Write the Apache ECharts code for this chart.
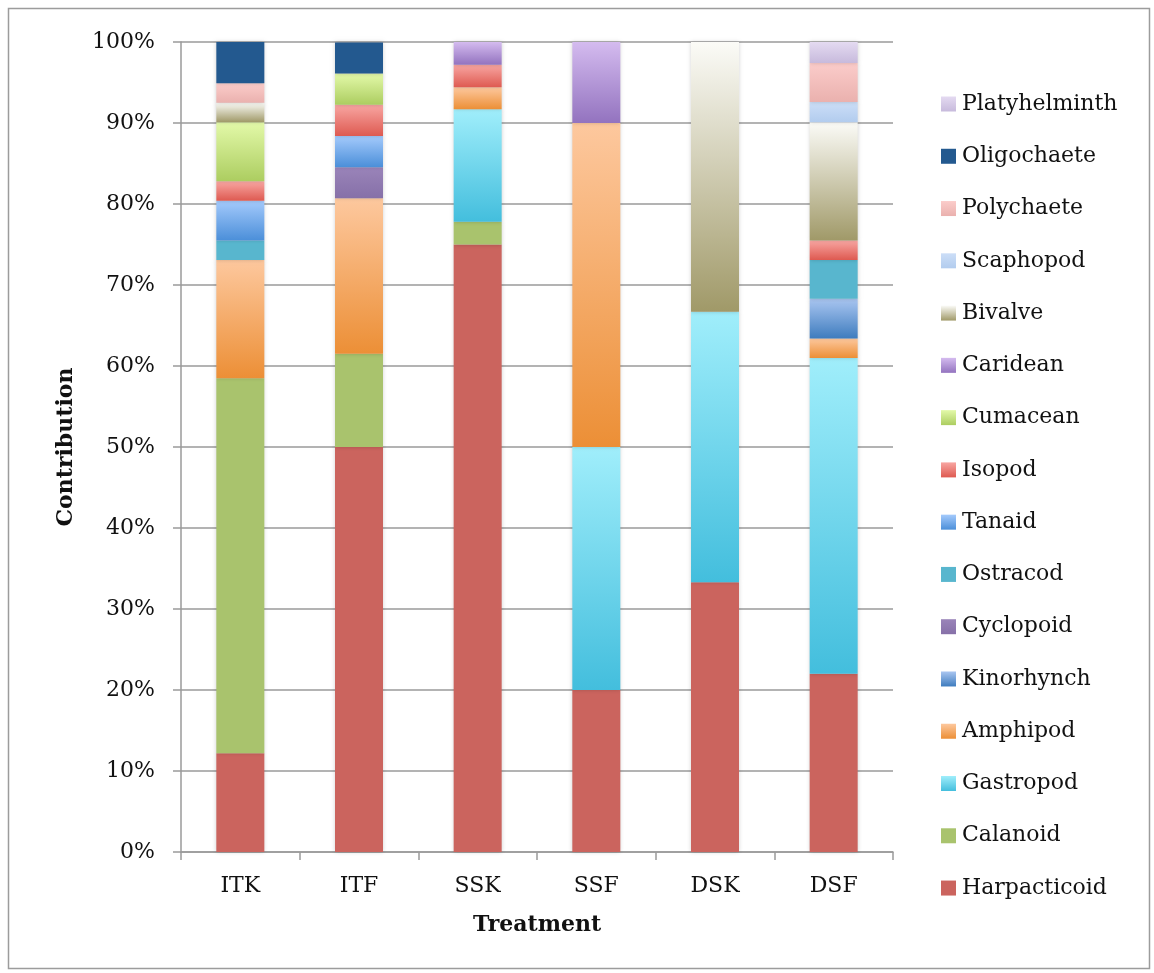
<!DOCTYPE html>
<html>
<head>
<meta charset="utf-8">
<title>Contribution by Treatment</title>
<script src="https://cdn.jsdelivr.net/npm/echarts@6/dist/echarts.min.js"></script>
<style>
  html, body { margin: 0; padding: 0; background: #ffffff; }
  #chart { width: 1154px; height: 973px; }
</style>
</head>
<body>
<div id="chart"></div>
<script>
// Treatments along the x axis
const treatments = ['ITK', 'ITF', 'SSK', 'SSF', 'DSK', 'DSF'];

// Percentage contribution of each taxon per treatment (stacked bottom → top)
const harpacticoid  = [12.2, 50.0, 75.0, 20.0, 33.3, 22.0];
const calanoid      = [46.3, 11.5, 2.8, null, null, null];
const gastropod     = [null, null, 13.9, 30.0, 33.4, 39.0];
const amphipod      = [14.6, 19.2, 2.7, 40.0, null, 2.4];
const kinorhynch    = [null, null, null, null, null, 4.9];
const cyclopoid     = [null, 3.85, null, null, null, null];
const ostracod      = [2.4, null, null, null, null, 4.8];
const tanaid        = [4.9, 3.85, null, null, null, null];
const isopod        = [2.4, 3.85, 2.8, null, null, 2.4];
const cumacean      = [7.3, 3.85, null, null, null, null];
const caridean      = [null, null, 2.8, 10.0, null, null];
const bivalve       = [2.4, null, null, null, 33.3, 14.6];
const scaphopod     = [null, null, null, null, null, 2.5];
const polychaete    = [2.4, null, null, null, null, 4.8];
const oligochaete   = [5.1, 3.85, null, null, null, null];
const platyhelminth = [null, null, null, null, null, 2.6];

// Y axis tick values (percent)
const yTicks = [0, 10, 20, 30, 40, 50, 60, 70, 80, 90, 100];

const FONT = 'DejaVu Serif';

function grad(top, bottom) {
  return new echarts.graphic.LinearGradient(0, 0, 0, 1, [
    { offset: 0, color: top },
    { offset: 1, color: bottom }
  ]);
}

const taxa = [
  { name: 'Harpacticoid',  data: harpacticoid,  color: '#CB645E' },
  { name: 'Calanoid',      data: calanoid,      color: '#A9C36D' },
  { name: 'Gastropod',     data: gastropod,     color: grad('#A0EEFB', '#43BEDD') },
  { name: 'Amphipod',      data: amphipod,      color: grad('#FDC89E', '#EC8F36') },
  { name: 'Kinorhynch',    data: kinorhynch,    color: grad('#AAC6F1', '#3E7CBE') },
  { name: 'Cyclopoid',     data: cyclopoid,     color: grad('#9A84B9', '#8670A8') },
  { name: 'Ostracod',      data: ostracod,      color: '#58B6CE' },
  { name: 'Tanaid',        data: tanaid,        color: grad('#A4CAFC', '#4B8FD9') },
  { name: 'Isopod',        data: isopod,        color: grad('#F8A6A2', '#DE5A51') },
  { name: 'Cumacean',      data: cumacean,      color: grad('#E3F9A9', '#ACCD60') },
  { name: 'Caridean',      data: caridean,      color: grad('#D4BBEF', '#9373BF') },
  { name: 'Bivalve',       data: bivalve,       color: grad('#FBFBF7', '#A09968') },
  { name: 'Scaphopod',     data: scaphopod,     color: grad('#CCDEF7', '#B2CCEE') },
  { name: 'Polychaete',    data: polychaete,    color: grad('#FBCCCA', '#EAB1AE') },
  { name: 'Oligochaete',   data: oligochaete,   color: '#23598F' },
  { name: 'Platyhelminth', data: platyhelminth, color: grad('#E4DAF1', '#C7BADC') }
];

const chart = echarts.init(document.getElementById('chart'), null, { renderer: 'canvas' });

const series = taxa.map(t => ({
  name: t.name,
  type: 'bar',
  stack: 'total',
  barWidth: 48,
  data: t.data,
  itemStyle: {
    color: t.color,
    shadowColor: 'rgba(0,0,0,0.18)',
    shadowBlur: 4
  },
  emphasis: { disabled: true }
}));

chart.setOption({
  animation: false,
  backgroundColor: '#ffffff',
  textStyle: { fontFamily: FONT },
  graphic: [{
    type: 'rect',
    shape: { x: 8.5, y: 8.5, width: 1141, height: 960 },
    style: { fill: 'none', stroke: '#9C9C9C', lineWidth: 1.5 },
    silent: true,
    z: -10
  }],
  grid: { left: 181, right: 261, top: 42, bottom: 121, containLabel: false },
  legend: {
    orient: 'vertical',
    left: 936,
    top: 88,
    itemWidth: 15,
    itemHeight: 15,
    itemGap: 30.27,
    icon: 'rect',
    selectedMode: false,
    data: taxa.map(t => t.name).reverse(),
    itemStyle: { shadowBlur: 0, shadowColor: 'transparent' },
    textStyle: { fontFamily: FONT, fontSize: 22, lineHeight: 22, color: '#111', padding: [0, 0, 0, 1] }
  },
  xAxis: {
    type: 'category',
    data: treatments,
    name: 'Treatment',
    nameLocation: 'middle',
    nameGap: 62,
    nameTextStyle: { fontFamily: FONT, fontSize: 22, fontWeight: 'bold', color: '#111' },
    axisLine: { lineStyle: { color: '#9A9A9A', width: 1.5 } },
    axisTick: { show: true, length: 8, lineStyle: { color: '#9A9A9A', width: 1.5 } },
    axisLabel: { fontFamily: FONT, fontSize: 22, color: '#111', margin: 23 }
  },
  yAxis: {
    type: 'value',
    min: yTicks[0],
    max: yTicks[yTicks.length - 1],
    interval: yTicks[1] - yTicks[0],
    name: 'Contribution',
    nameLocation: 'middle',
    nameGap: 104,
    nameTextStyle: { fontFamily: FONT, fontSize: 22, fontWeight: 'bold', color: '#111' },
    axisLine: { show: true, lineStyle: { color: '#9A9A9A', width: 1.5 } },
    axisTick: { show: true, length: 8, lineStyle: { color: '#9A9A9A', width: 1.5 } },
    splitLine: { show: true, lineStyle: { color: '#9A9A9A', width: 1.5 } },
    axisLabel: {
      fontFamily: FONT, fontSize: 22, color: '#111', margin: 26,
      formatter: v => v + '%'
    }
  },
  series: series
});
</script>
</body>
</html>
